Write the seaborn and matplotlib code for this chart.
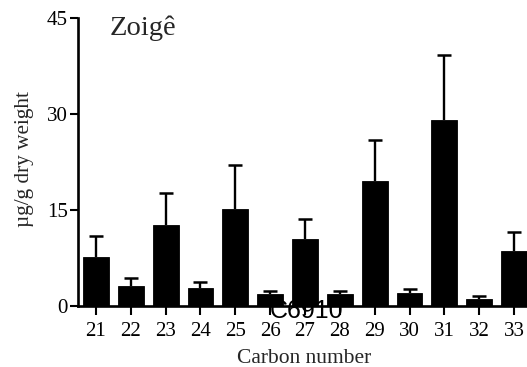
import matplotlib
matplotlib.use("Agg")
import matplotlib.pyplot as plt
import seaborn as sns
import numpy as np
import pandas as pd

# Long-chain n-alkane concentrations by carbon number
carbon_numbers = [21, 22, 23, 24, 25, 26, 27, 28, 29, 30, 31, 32, 33]
mean_values = [7.7, 3.1, 12.6, 2.8, 15.1, 1.9, 10.5, 1.9, 19.5, 2.1, 29.1, 1.15, 8.6]
upper_errors = [3.3, 1.2, 5.0, 0.9, 7.0, 0.4, 3.1, 0.4, 6.4, 0.5, 10.1, 0.4, 3.0]
y_ticks = [0, 15, 30, 45]
site_name = "Zoigê"
sample_code = "C6910"

sns.set_theme(style="ticks")
plt.rcParams["font.family"] = ["Liberation Serif", "DejaVu Serif"]

df = pd.DataFrame({"carbon": [str(c) for c in carbon_numbers], "value": mean_values})

fig = plt.figure(figsize=(5.27, 3.67), dpi=100)
ax = fig.add_axes([78 / 527, 61 / 367, 452 / 527, 288 / 367])

sns.barplot(data=df, x="carbon", y="value", color="black", width=0.74,
            edgecolor="black", linewidth=0.6, errorbar=None, saturation=1,
            ax=ax, zorder=3)

# upper-only error bars
pos = np.arange(len(carbon_numbers))
_, caps, _ = ax.errorbar(pos, mean_values,
                         yerr=[np.zeros(len(upper_errors)), upper_errors],
                         fmt="none", ecolor="black", elinewidth=1.7, capsize=5,
                         capthick=1.8, zorder=2)
caps[0].set_visible(False)

ax.set_ylim(0, 45)
ax.set_yticks(y_ticks)
ax.set_xlim(-0.516, 12.459)
ax.set_xticks(pos)
ax.set_xticklabels([str(c) for c in carbon_numbers])

for side in ("top", "right"):
    ax.spines[side].set_visible(False)
for side in ("left", "bottom"):
    ax.spines[side].set_linewidth(1.9)
    ax.spines[side].set_color("black")

ax.tick_params(axis="both", which="major", direction="out", width=1.5,
               color="black", labelsize=15, labelcolor="black")
ax.tick_params(axis="y", length=5.5, pad=2)
ax.tick_params(axis="x", length=6.5, pad=5)

ax.set_xlabel("Carbon number", fontsize=15.5, labelpad=6)
ax.set_ylabel("µg/g dry weight", fontsize=15.3)
ax.yaxis.set_label_coords(-0.098, 0.51)

ax.text(0.0708, 0.941, site_name, transform=ax.transAxes, fontsize=20.5,
        ha="left", va="baseline")

ax.text(0.505, -0.018, sample_code, transform=ax.transAxes, fontsize=18,
        family=["Liberation Sans", "DejaVu Sans"], ha="center", va="center",
        color="black", zorder=1, clip_on=False)

fig.savefig("out.png", dpi=100)
